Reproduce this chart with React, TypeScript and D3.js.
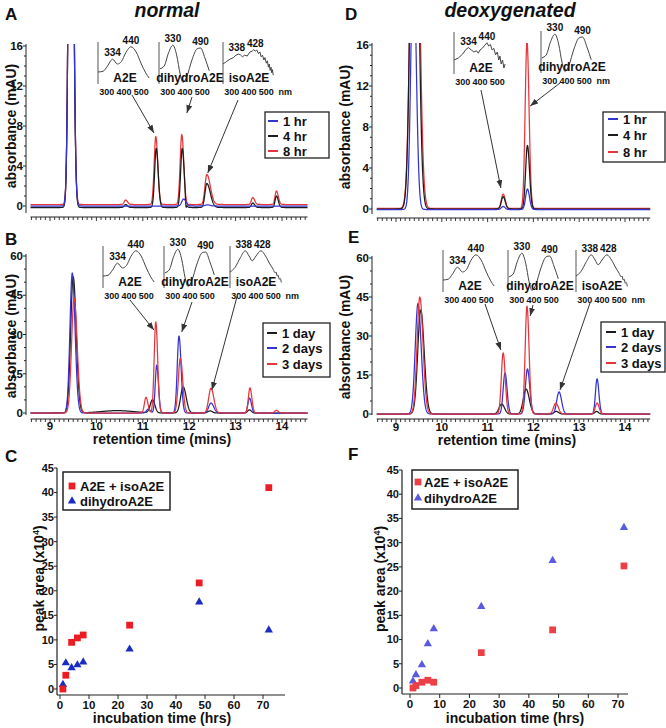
import React from "react";
import * as d3 from "d3";

type Peak = [number, number, number, number]; // [retention time (min), height (mAU), sigma left, sigma right]
type Pt = [number, number];

// ---------------- data ----------------
const retentionTicks = [9, 10, 11, 12, 13, 14];
const hourLabels = ["1 hr", "4 hr", "8 hr"];
const dayLabels = ["1 day", "2 days", "3 days"];
const absTicksSmall = [0, 4, 8, 12, 16];
const absTicksLarge = [0, 15, 30, 45, 60];

// A: normal, hours
const normal1hr: Peak[] = [[9.45, 60, 0.043, 0.047], [11.88, 0.7, 0.04, 0.05], [12.4, 0.12, 0.05, 0.05]];
const normal4hr: Peak[] = [[9.45, 60, 0.043, 0.047], [10.63, 0.3, 0.03, 0.04], [11.29, 5.9, 0.035, 0.042], [11.85, 5.9, 0.035, 0.042], [11.93, -0.8, 0.012, 0.012], [12.38, 2.4, 0.04, 0.075], [13.37, 0.45, 0.03, 0.04], [13.88, 1.15, 0.03, 0.04]];
const normal8hr: Peak[] = [[9.45, 60, 0.043, 0.047], [10.63, 0.45, 0.03, 0.04], [11.28, 6.8, 0.035, 0.042], [11.84, 7.0, 0.035, 0.042], [12.38, 3.0, 0.04, 0.075], [13.37, 0.7, 0.03, 0.04], [13.88, 1.35, 0.03, 0.04]];
const normalHourBase = [0, -0.15, 0.15];

// B: normal, days
const normal1day: Peak[] = [[9.5, 52, 0.055, 0.065], [10.45, 0.9, 0.35, 0.35], [11.21, 5.0, 0.05, 0.05], [11.87, 10, 0.055, 0.065], [12.45, 0.8, 0.05, 0.05], [13.3, 1.2, 0.04, 0.04]];
const normal2days: Peak[] = [[9.48, 53.5, 0.05, 0.06], [11.12, 1.5, 0.04, 0.04], [11.3, 18.3, 0.032, 0.038], [11.78, 29.4, 0.038, 0.045], [12.47, 3.8, 0.05, 0.06], [13.3, 5.7, 0.035, 0.04]];
const normal3days: Peak[] = [[9.52, 44, 0.055, 0.065], [11.07, 6.0, 0.035, 0.04], [11.28, 34.8, 0.035, 0.04], [11.81, 21, 0.045, 0.05], [12.47, 9.5, 0.05, 0.06], [13.31, 9.6, 0.035, 0.04], [13.88, 1.0, 0.04, 0.04]];

// D: deoxygenated, hours
const deoxy1hr: Peak[] = [[9.38, 25, 0.055, 0.06], [11.34, 0.3, 0.04, 0.04], [11.87, 2.0, 0.04, 0.045]];
const deoxy4hr: Peak[] = [[9.4, 48, 0.075, 0.08], [11.34, 1.2, 0.04, 0.045], [11.87, 6.2, 0.04, 0.045]];
const deoxy8hr: Peak[] = [[9.41, 50, 0.08, 0.085], [11.34, 1.4, 0.04, 0.045], [11.86, 16.3, 0.04, 0.045]];

// E: deoxygenated, days
const deoxy1day: Peak[] = [[9.54, 40, 0.065, 0.075], [11.31, 3.8, 0.06, 0.06], [11.84, 9.6, 0.06, 0.07], [12.5, 1.0, 0.05, 0.05], [13.38, 1.0, 0.04, 0.04]];
const deoxy2days: Peak[] = [[9.48, 42.5, 0.06, 0.07], [11.38, 15.8, 0.04, 0.045], [11.87, 17.3, 0.045, 0.05], [12.56, 8.5, 0.05, 0.055], [13.39, 13.5, 0.035, 0.04]];
const deoxy3days: Peak[] = [[9.52, 45, 0.06, 0.07], [11.34, 23.5, 0.04, 0.045], [11.86, 41.5, 0.04, 0.045], [12.49, 4.2, 0.05, 0.055], [13.39, 4.2, 0.04, 0.045]];

// Inset absorbance spectra [nm, relative absorbance]
const specA2E: Pt[] = [[250, 0.3], [280, 0.32], [305, 0.45], [334, 0.62], [362, 0.5], [385, 0.56], [410, 0.78], [440, 0.93], [470, 0.8], [500, 0.5], [525, 0.28], [545, 0.15]];
const specA2ENoisy: Pt[] = [[250, 0.35], [275, 0.4], [300, 0.5], [320, 0.62], [334, 0.66], [350, 0.6], [365, 0.55], [380, 0.58], [390, 0.52], [400, 0.6], [415, 0.65], [428, 0.72], [440, 0.78], [450, 0.7], [460, 0.74], [470, 0.6], [480, 0.64], [490, 0.48], [500, 0.55], [508, 0.35], [515, 0.45], [522, 0.25], [530, 0.35], [538, 0.15], [545, 0.25]];
const specDihydro: Pt[] = [[255, 0.38], [280, 0.45], [305, 0.78], [330, 0.97], [352, 0.72], [372, 0.25], [388, 0.04], [410, 0.18], [440, 0.6], [470, 0.88], [490, 0.9], [515, 0.65], [540, 0.33]];
const specIsoNoisy: Pt[] = [[250, 0.5], [270, 0.56], [290, 0.62], [310, 0.66], [325, 0.72], [338, 0.75], [350, 0.73], [362, 0.68], [375, 0.72], [390, 0.7], [405, 0.8], [418, 0.82], [428, 0.86], [436, 0.82], [445, 0.85], [455, 0.76], [463, 0.8], [470, 0.68], [478, 0.72], [486, 0.6], [492, 0.66], [500, 0.52], [506, 0.58], [512, 0.42], [517, 0.5], [522, 0.34], [527, 0.42], [531, 0.28], [535, 0.36], [540, 0.22]];
const specIso: Pt[] = [[250, 0.4], [280, 0.52], [310, 0.76], [338, 0.93], [360, 0.8], [378, 0.68], [400, 0.8], [428, 0.93], [455, 0.8], [480, 0.6], [500, 0.46], [510, 0.38], [516, 0.4], [522, 0.3], [528, 0.32], [534, 0.22], [540, 0.24], [546, 0.14]];
const nmTicks = [300, 400, 500];

// C / F peak areas (x10^4)
const incubationHours = [1, 2, 4, 6, 8, 24, 48, 72];
const normalA2EArea = [0, 2.8, 9.5, 10.4, 11.0, 13.0, 21.6, 41.0];
const normalDihydroArea = [0.9, 5.3, 4.3, 4.9, 5.5, 8.1, 17.7, 12.0];
const deoxyA2EArea = [0, 0.5, 1.2, 1.6, 1.2, 7.3, 12.0, 25.2];
const deoxyDihydroArea = [1.4, 2.7, 4.8, 9.1, 12.2, 16.8, 26.3, 33.1];
const areaTicks = [0, 5, 10, 15, 20, 25, 30, 35, 40, 45];
const hourTicks = [0, 10, 20, 30, 40, 50, 60, 70];

// ---------------- styles ----------------
const FONT = "'Liberation Sans', Arial, Helvetica, sans-serif";
const BLUE = "#3434d0";
const BLACK = "#1c1c1c";
const RED = "#e8353b";

function sampleTrace(peaks: Peak[], base: number): Pt[] {
  const pts: Pt[] = [];
  for (let i = 0; i <= 1194; i++) {
    const t = 8.58 + i * 0.005;
    let v = base;
    for (const [c, h, sl, sr] of peaks) {
      const s = t < c ? sl : sr;
      v += h * Math.exp(-((t - c) * (t - c)) / (2 * s * s));
    }
    pts.push([t, v]);
  }
  return pts;
}

function interp(spec: Pt[], nm: number) {
  for (let i = 1; i < spec.length; i++) {
    if (spec[i][0] >= nm) {
      const [a, va] = spec[i - 1];
      const [b, vb] = spec[i];
      return va + ((nm - a) / (b - a)) * (vb - va);
    }
  }
  return spec[spec.length - 1][1];
}

type InsetCfg = { name: string; x0: number; yBot: number; spec: Pt[]; labels: number[]; labelDx?: number[]; nm?: boolean; noisy?: boolean; nameDx: number };

function Inset({ c }: { c: InsetCfg }) {
  const xs = d3.scaleLinear().domain([250, 550]).range([c.x0, c.x0 + 52]);
  const ys = d3.scaleLinear().domain([0, 1]).range([c.yBot, c.yBot - 40]);
  const line = d3.line<Pt>().x((d) => xs(d[0])).y((d) => ys(d[1])).curve(c.noisy ? d3.curveLinear : d3.curveMonotoneX);
  return (
    <g>
      <line x1={c.x0} x2={c.x0} y1={c.yBot} y2={c.yBot - 42} stroke="#555" strokeWidth={1} />
      <path d={line(c.spec) || ""} fill="none" stroke="#444" strokeWidth={1} />
      <text x={c.x0 + c.nameDx} y={c.yBot - 2} textAnchor="middle" fontSize={12} fontWeight="bold" fill="#111">{c.name}</text>
      {c.labels.map((nm, i) => (
        <text key={nm} x={xs(nm) + (c.labelDx ? c.labelDx[i] : 0)} y={ys(interp(c.spec, nm)) - 3} textAnchor="middle" fontSize={10} fontWeight="bold" fill="#111">{nm}</text>
      ))}
      {nmTicks.map((nm) => (
        <text key={nm} x={xs(nm)} y={c.yBot + 11} textAnchor="middle" fontSize={9} fontWeight="bold" fill="#111">{nm}</text>
      ))}
      {c.nm && <text x={xs(500) + 19} y={c.yBot + 11} textAnchor="middle" fontSize={9} fontWeight="bold" fill="#111">nm</text>}
    </g>
  );
}

type Arrow = { from: Pt; to: Pt };
type ChromCfg = {
  id: string;
  xr: [number, number];
  yMax: number;
  yr: [number, number];
  yAxisX: number;
  xAxisY: number;
  yTicks: number[];
  yMinor: number;
  xLabels: boolean;
  xLabelY: number;
  traces: { color: string; base: number; peaks: Peak[] }[];
  clip: boolean;
  arrows: Arrow[];
  insets: InsetCfg[];
  legend: { x: number; y: number; w: number; h: number; rows: { label: string; color: string }[]; rowY: number[]; lx: number };
};

function Chromatogram({ c }: { c: ChromCfg }) {
  const x = d3.scaleLinear().domain([9, 14]).range(c.xr);
  const y = d3.scaleLinear().domain([0, c.yMax]).range(c.yr);
  const line = d3.line<Pt>().x((d) => x(d[0])).y((d) => y(d[1]));
  const minor = d3.range(86, 146).map((i) => i / 10);
  const yMinorTicks = d3.range(0, c.yMax + 0.001, c.yMinor);
  const top = y(c.yMax * 1.012);
  return (
    <g>
      <defs>
        <clipPath id={`clip-${c.id}`}>
          <rect x={x(8.5)} y={top} width={x(14.6) - x(8.5)} height={c.xAxisY - top} />
        </clipPath>
      </defs>
      {/* axes */}
      <line x1={c.yAxisX} x2={c.yAxisX} y1={y(c.yMax) - 2} y2={c.xAxisY - 4} stroke="#222" strokeWidth={1} />
      {yMinorTicks.map((v) => (
        <line key={v} x1={c.yAxisX - (c.yTicks.includes(v) ? 3 : 2)} x2={c.yAxisX} y1={y(v)} y2={y(v)} stroke="#222" strokeWidth={1} />
      ))}
      {c.yTicks.map((v) => (
        <text key={v} x={c.yAxisX - 3} y={y(v)} dy="0.35em" textAnchor="end" fontSize={11.5} fontWeight="bold" fill="#111">{v}</text>
      ))}
      <line x1={x(8.58)} x2={x(14.55)} y1={c.xAxisY} y2={c.xAxisY} stroke="#222" strokeWidth={1} />
      {minor.map((t) => (
        <line key={t} x1={x(t)} x2={x(t)} y1={c.xAxisY} y2={c.xAxisY + (Math.abs(t - Math.round(t)) < 1e-6 ? 4 : 3)} stroke="#222" strokeWidth={0.9} />
      ))}
      {c.xLabels && retentionTicks.map((t) => (
        <text key={t} x={x(t)} y={c.xLabelY} textAnchor="middle" fontSize={11.5} fontWeight="bold" fill="#111">{t}</text>
      ))}
      {/* traces */}
      <g clipPath={c.clip ? `url(#clip-${c.id})` : undefined}>
        {c.traces.map((tr, i) => (
          <path key={i} d={line(sampleTrace(tr.peaks, tr.base)) || ""} fill="none" stroke={tr.color} strokeWidth={1.25} strokeLinejoin="round" />
        ))}
      </g>
      {/* insets */}
      {c.insets.map((ins) => <Inset key={ins.name} c={ins} />)}
      {/* arrows */}
      {c.arrows.map((a, i) => (
        <line key={i} x1={a.from[0]} y1={a.from[1]} x2={x(a.to[0])} y2={y(a.to[1])} stroke="#333" strokeWidth={1} markerEnd="url(#arrowhead)" />
      ))}
      {/* legend */}
      <rect x={c.legend.x} y={c.legend.y} width={c.legend.w} height={c.legend.h} fill="#fff" stroke="#222" strokeWidth={1.3} />
      {c.legend.rows.map((r, i) => (
        <g key={r.label}>
          <line x1={c.legend.lx} x2={c.legend.lx + 10} y1={c.legend.rowY[i]} y2={c.legend.rowY[i]} stroke={r.color} strokeWidth={2} />
          <text x={c.legend.lx + 15} y={c.legend.rowY[i]} dy="0.36em" fontSize={13} fontWeight="bold" fill="#111">{r.label}</text>
        </g>
      ))}
    </g>
  );
}

type ScatterCfg = {
  xr: [number, number];
  yr: [number, number];
  yAxisX: number;
  xAxisY: number;
  xAxisEnd: number;
  yTop: number;
  a2e: number[];
  dihydro: number[];
  red: string;
  blue: string;
  legend: { x: number; y: number; w: number; h: number; sx: number; y1: number; y2: number; tx: number };
  yTitleX: number;
  xTitleX: number;
};

function Scatter({ c }: { c: ScatterCfg }) {
  const x = d3.scaleLinear().domain([0, 70]).range(c.xr);
  const y = d3.scaleLinear().domain([0, 45]).range(c.yr);
  const sq = d3.symbol(d3.symbolSquare, 46)() || "";
  const tri = d3.symbol(d3.symbolTriangle, 30)() || "";
  return (
    <g>
      <line x1={c.yAxisX} x2={c.yAxisX} y1={c.yTop} y2={c.xAxisY} stroke="#222" strokeWidth={1.2} />
      <line x1={c.yAxisX} x2={c.xAxisEnd} y1={c.xAxisY} y2={c.xAxisY} stroke="#222" strokeWidth={1.2} />
      {areaTicks.map((v) => (
        <g key={v}>
          <line x1={c.yAxisX - 3} x2={c.yAxisX} y1={y(v)} y2={y(v)} stroke="#222" strokeWidth={1} />
          <text x={c.yAxisX - 3} y={y(v)} dy="0.35em" textAnchor="end" fontSize={11} fontWeight="bold" fill="#111">{v}</text>
        </g>
      ))}
      {hourTicks.map((v) => (
        <g key={v}>
          <line x1={x(v)} x2={x(v)} y1={c.xAxisY} y2={c.xAxisY + 4} stroke="#222" strokeWidth={1} />
          <text x={x(v)} y={c.xAxisY + 14} textAnchor="middle" fontSize={11.5} fontWeight="bold" fill="#111">{v}</text>
        </g>
      ))}
      <text transform={`translate(${c.yTitleX},${(c.yr[0] + c.yr[1]) / 2}) rotate(-90)`} textAnchor="middle" fontSize={14} fontWeight="bold" fill="#111">
        peak area (x10<tspan dy="-5" fontSize={9}>4</tspan><tspan dy="5">)</tspan>
      </text>
      <text x={c.xTitleX} y={723} textAnchor="middle" fontSize={14} fontWeight="bold" fill="#111">incubation time (hrs)</text>
      {incubationHours.map((h, i) => (
        <path key={`b${h}`} d={tri} transform={`translate(${x(h)},${y(c.dihydro[i])})`} fill={c.blue} />
      ))}
      {incubationHours.map((h, i) => (
        <path key={`r${h}`} d={sq} transform={`translate(${x(h)},${y(c.a2e[i])})`} fill={c.red} />
      ))}
      <rect x={c.legend.x} y={c.legend.y} width={c.legend.w} height={c.legend.h} fill="#fff" stroke="#222" strokeWidth={1.5} />
      <path d={sq} transform={`translate(${c.legend.sx},${c.legend.y1})`} fill={c.red} />
      <text x={c.legend.tx} y={c.legend.y1} dy="0.36em" fontSize={13} fontWeight="bold" fill="#111">A2E + isoA2E</text>
      <path d={tri} transform={`translate(${c.legend.sx},${c.legend.y2})`} fill={c.blue} />
      <text x={c.legend.tx} y={c.legend.y2} dy="0.36em" fontSize={13} fontWeight="bold" fill="#111">dihydroA2E</text>
    </g>
  );
}

export default function App() {
  const hourRows = (colors: string[]) => hourLabels.map((l, i) => ({ label: l, color: colors[i] }));
  const dayRows = (colors: string[]) => dayLabels.map((l, i) => ({ label: l, color: colors[i] }));

  const A: ChromCfg = {
    id: "A", xr: [50, 282], yMax: 16, yr: [206, 46], yAxisX: 26, xAxisY: 217, yTicks: absTicksSmall, yMinor: 1,
    xLabels: false, xLabelY: 0, clip: true,
    traces: [
      { color: RED, base: normalHourBase[2], peaks: normal8hr },
      { color: BLACK, base: normalHourBase[1], peaks: normal4hr },
      { color: BLUE, base: normalHourBase[0], peaks: normal1hr },
    ],
    insets: [
      { name: "A2E", x0: 98, yBot: 84, spec: specA2E, labels: [334, 440], nameDx: 27 },
      { name: "dihydroA2E", x0: 159, yBot: 84, spec: specDihydro, labels: [330, 490], nameDx: 31 },
      { name: "isoA2E", x0: 223, yBot: 84, spec: specIsoNoisy, labels: [338, 428], labelDx: [-1.5, 1.5], nm: true, noisy: true, nameDx: 26 },
    ],
    arrows: [
      { from: [132, 95], to: [11.24, 7.3] },
      { from: [192, 97], to: [11.95, 9.3] },
      { from: [238, 100], to: [12.4, 3.3] },
    ],
    legend: { x: 265, y: 112, w: 64, h: 46, rows: hourRows([BLUE, BLACK, RED]), rowY: [121, 136, 151], lx: 268 },
  };
  const B: ChromCfg = {
    id: "B", xr: [50, 282], yMax: 60, yr: [413, 256], yAxisX: 26, xAxisY: 419, yTicks: absTicksLarge, yMinor: 5,
    xLabels: true, xLabelY: 430, clip: false,
    traces: [
      { color: BLACK, base: 0, peaks: normal1day },
      { color: BLUE, base: 0, peaks: normal2days },
      { color: RED, base: 0, peaks: normal3days },
    ],
    insets: [
      { name: "A2E", x0: 103, yBot: 288, spec: specA2E, labels: [334, 440], nameDx: 27 },
      { name: "dihydroA2E", x0: 164, yBot: 288, spec: specDihydro, labels: [330, 490], nameDx: 31 },
      { name: "isoA2E", x0: 230, yBot: 288, spec: specIso, labels: [338, 428], labelDx: [-1.5, 1.5], nm: true, nameDx: 26 },
    ],
    arrows: [
      { from: [130, 300], to: [11.24, 31.7] },
      { from: [192, 302], to: [11.84, 31] },
      { from: [238, 293], to: [12.49, 8.8] },
    ],
    legend: { x: 263, y: 323, w: 67, h: 54, rows: dayRows([BLACK, BLUE, RED]), rowY: [333, 348, 364], lx: 267 },
  };
  const D: ChromCfg = {
    id: "D", xr: [396, 625], yMax: 16, yr: [209, 45], yAxisX: 372, xAxisY: 218, yTicks: absTicksSmall, yMinor: 1,
    xLabels: false, xLabelY: 0, clip: true,
    traces: [
      { color: RED, base: 0.05, peaks: deoxy8hr },
      { color: BLACK, base: 0, peaks: deoxy4hr },
      { color: BLUE, base: -0.05, peaks: deoxy1hr },
    ],
    insets: [
      { name: "A2E", x0: 454, yBot: 74, spec: specA2ENoisy, labels: [334, 440], noisy: true, nameDx: 27 },
      { name: "dihydroA2E", x0: 541, yBot: 73, spec: specDihydro, labels: [330, 490], nm: true, nameDx: 31 },
    ],
    arrows: [
      { from: [481, 90], to: [11.29, 2.05] },
      { from: [560, 83], to: [11.93, 10.05] },
    ],
    legend: { x: 603, y: 112, w: 62, h: 50, rows: hourRows([BLUE, BLACK, RED]), rowY: [119, 135, 152], lx: 608 },
  };
  const E: ChromCfg = {
    id: "E", xr: [396, 625], yMax: 60, yr: [414, 258], yAxisX: 372, xAxisY: 419, yTicks: absTicksLarge, yMinor: 5,
    xLabels: true, xLabelY: 431, clip: false,
    traces: [
      { color: BLACK, base: 0, peaks: deoxy1day },
      { color: BLUE, base: 0, peaks: deoxy2days },
      { color: RED, base: 0, peaks: deoxy3days },
    ],
    insets: [
      { name: "A2E", x0: 443, yBot: 292, spec: specA2E, labels: [334, 440], nameDx: 27 },
      { name: "dihydroA2E", x0: 508, yBot: 292, spec: specDihydro, labels: [330, 490], nameDx: 32 },
      { name: "isoA2E", x0: 576, yBot: 292, spec: specIso, labels: [338, 428], labelDx: [-1.5, 1.5], nm: true, nameDx: 26 },
    ],
    arrows: [
      { from: [485, 304], to: [11.29, 24.6] },
      { from: [533, 305], to: [11.93, 37.7] },
      { from: [590, 303], to: [12.58, 9.2] },
    ],
    legend: { x: 601, y: 322, w: 64, h: 50, rows: dayRows([BLACK, BLUE, RED]), rowY: [332, 347, 363], lx: 606 },
  };

  const C: ScatterCfg = {
    xr: [60, 263], yr: [689, 468], yAxisX: 57, xAxisY: 695, xAxisEnd: 285, yTop: 468,
    a2e: normalA2EArea, dihydro: normalDihydroArea, red: "#ec1c24", blue: "#1b2cc4",
    legend: { x: 63, y: 472, w: 107, h: 38, sx: 72, y1: 486, y2: 501, tx: 80 },
    yTitleX: 44, xTitleX: 162,
  };
  const F: ScatterCfg = {
    xr: [410, 618], yr: [688, 470], yAxisX: 402, xAxisY: 694, xAxisEnd: 628, yTop: 470,
    a2e: deoxyA2EArea, dihydro: deoxyDihydroArea, red: "#ea4046", blue: "#5a5ae0",
    legend: { x: 412, y: 470, w: 106, h: 39, sx: 418, y1: 482, y2: 498, tx: 424 },
    yTitleX: 385, xTitleX: 515,
  };

  const axisTitle = (x: number, y: number, s: string) => (
    <text transform={`translate(${x},${y}) rotate(-90)`} textAnchor="middle" fontSize={14} fontWeight="bold" fill="#111">{s}</text>
  );

  return (
    <div style={{ position: "absolute", left: 0, top: 0 }}>
      <svg width={666} height={728} style={{ display: "block", background: "#fff", fontFamily: FONT }}>
        <defs>
          <marker id="arrowhead" viewBox="0 0 8 6" refX={8} refY={3} markerWidth={8} markerHeight={6} markerUnits="userSpaceOnUse" orient="auto">
            <path d="M0,0 L8,3 L0,6 z" fill="#333" />
          </marker>
        </defs>
        <rect width={666} height={728} fill="#fff" />
        {/* titles & panel letters */}
        <text x={167} y={17} textAnchor="middle" fontSize={19.5} fontWeight="bold" fontStyle="italic" fill="#111">normal</text>
        <text x={510} y={17} textAnchor="middle" fontSize={19.5} fontWeight="bold" fontStyle="italic" fill="#111">deoxygenated</text>
        <text x={5} y={20} fontSize={17} fontWeight="bold" fill="#111">A</text>
        <text x={5} y={245} fontSize={17} fontWeight="bold" fill="#111">B</text>
        <text x={5} y={462} fontSize={17} fontWeight="bold" fill="#111">C</text>
        <text x={345} y={20} fontSize={17} fontWeight="bold" fill="#111">D</text>
        <text x={348} y={243} fontSize={17} fontWeight="bold" fill="#111">E</text>
        <text x={348} y={460} fontSize={17} fontWeight="bold" fill="#111">F</text>
        {axisTitle(16, 126, "absorbance (mAU)")}
        {axisTitle(16, 336, "absorbance (mAU)")}
        {axisTitle(350, 127, "absorbance (mAU)")}
        {axisTitle(350, 337, "absorbance (mAU)")}
        <text x={162} y={444} textAnchor="middle" fontSize={14} fontWeight="bold" fill="#111">retention time (mins)</text>
        <text x={507} y={445} textAnchor="middle" fontSize={14} fontWeight="bold" fill="#111">retention time (mins)</text>
        <Chromatogram c={A} />
        <Chromatogram c={B} />
        <Chromatogram c={D} />
        <Chromatogram c={E} />
        <Scatter c={C} />
        <Scatter c={F} />
      </svg>
    </div>
  );
}
